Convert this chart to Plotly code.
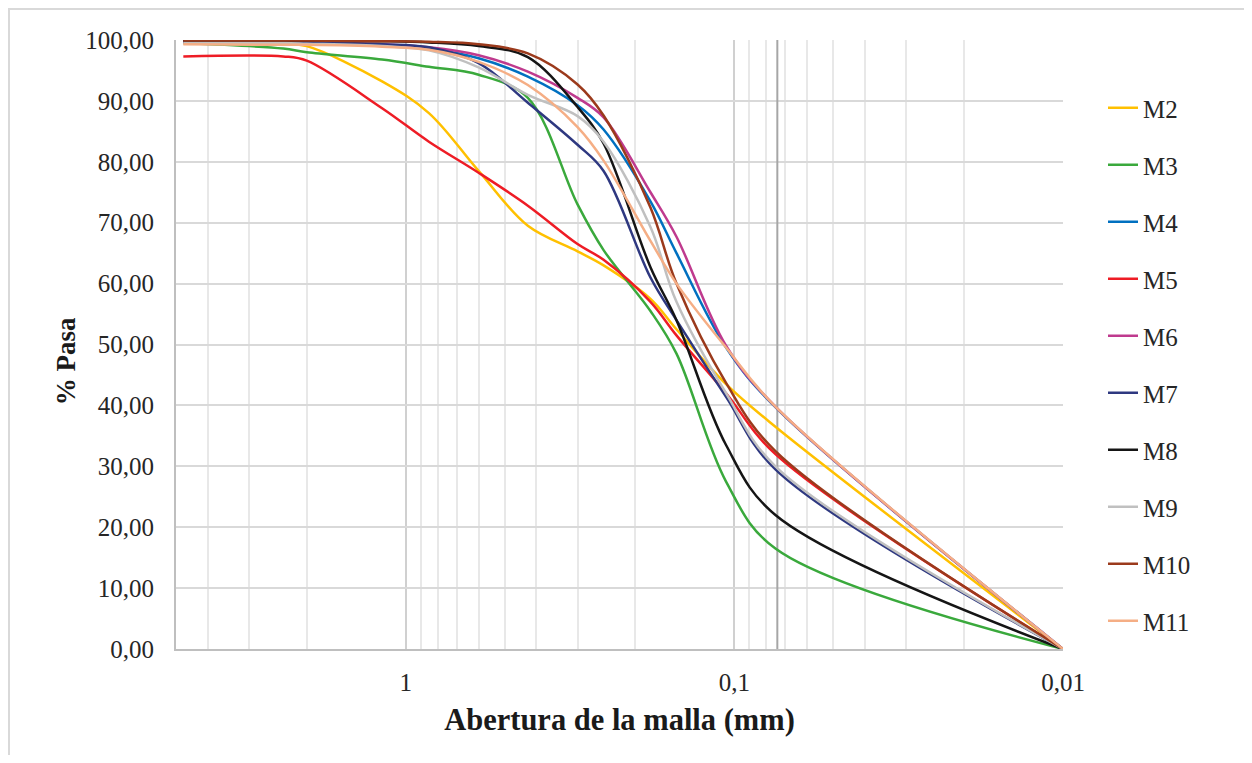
import plotly.graph_objects as go
import math

# Sieve openings (mm)
sizes = [4.75, 2.36, 2.0, 1.18, 0.85, 0.6, 0.425, 0.3, 0.25, 0.18, 0.15, 0.106, 0.075, 0.01]

M2 = [99.5, 99.4, 99.0, 93.2, 88.0, 78.5, 69.5, 65.3, 63.0, 57.5, 52.5, 43.5, 36.5, 0.0]
M3 = [99.5, 98.6, 98.0, 96.8, 95.6, 94.3, 90.5, 73.0, 65.5, 55.5, 48.5, 27.5, 16.5, 0.0]
M4 = [99.6, 99.6, 99.5, 99.2, 98.6, 97.0, 94.0, 89.3, 85.3, 73.5, 65.0, 49.5, 39.7, 0.0]
M5 = [97.3, 97.3, 96.6, 88.8, 83.3, 78.2, 72.8, 66.5, 63.9, 57.0, 51.5, 42.0, 32.0, 0.0]
M6 = [99.7, 99.7, 99.6, 99.3, 98.8, 97.5, 94.8, 90.5, 87.3, 75.0, 67.7, 49.8, 39.8, 0.0]
M7 = [99.8, 99.7, 99.6, 99.3, 98.8, 96.2, 89.7, 82.8, 78.5, 61.0, 54.0, 41.4, 29.5, 0.0]
M8 = [99.9, 99.9, 99.9, 99.8, 99.6, 99.0, 97.2, 89.0, 83.0, 62.7, 54.0, 33.5, 22.0, 0.0]
M9 = [99.5, 99.5, 99.4, 99.0, 98.3, 95.5, 91.0, 87.5, 83.3, 69.3, 57.0, 42.0, 30.0, 0.0]
M10 = [99.9, 99.9, 99.9, 99.8, 99.7, 99.3, 97.8, 92.7, 87.6, 72.5, 60.0, 43.7, 32.5, 0.0]
M11 = [99.3, 99.2, 99.2, 98.9, 98.4, 96.4, 92.6, 85.7, 80.2, 67.0, 60.0, 49.5, 39.8, 0.0]

series_names = ["M2", "M3", "M4", "M5", "M6", "M7", "M8", "M9", "M10", "M11"]
series_values = [M2, M3, M4, M5, M6, M7, M8, M9, M10, M11]
series_colors = ["#FFC000", "#3AA93C", "#0070C0", "#EE1C25", "#BF3A8E",
                 "#2E3880", "#151515", "#C0C0C0", "#9B3A1C", "#F5AE85"]

# Reference sieve line (No. 200)
ref_x = [0.074, 0.074]
ref_y = [0, 100]

x_tick_vals = [1, 0.1, 0.01]
x_tick_text = ["1", "0,1", "0,01"]
x_minor_vals = [4, 3, 2, 0.9, 0.8, 0.7, 0.6, 0.5, 0.4, 0.3, 0.2,
                0.09, 0.08, 0.07, 0.06, 0.05, 0.04, 0.03, 0.02]

fig = go.Figure()

fig.add_trace(go.Scatter(x=ref_x, y=ref_y, mode="lines",
                         line=dict(color="#A6A6A6", width=2),
                         showlegend=False, hoverinfo="skip"))

for name, vals, col in zip(series_names, series_values, series_colors):
    fig.add_trace(go.Scatter(x=sizes, y=vals, mode="lines", name=name,
                             legendgroup=name,
                             line=dict(color=col, width=2.5, shape="spline", smoothing=1.0)))

# page body adds an 8px offset; figure coordinates below are page coords - 8
W, H = 1236, 747
L, T = 168, 32
R = W - 1055
B = H - 641
pw = W - L - R
ph = H - T - B

fig.update_layout(
    width=W, height=H,
    margin=dict(l=L, r=R, t=T, b=B),
    paper_bgcolor="white", plot_bgcolor="white",
    separators=", ",
    font=dict(family="Liberation Serif", size=25, color="#262626"),
    showlegend=True,
    legend=dict(
        x=1 + (1095 - 1055) / pw, xanchor="left",
        y=1 - (77 - T) / ph, yanchor="top",
        traceorder="grouped", tracegroupgap=21.5,
        font=dict(family="Liberation Serif", size=25, color="#262626"),
        bgcolor="rgba(0,0,0,0)",
    ),
    xaxis=dict(
        type="log",
        range=[math.log10(5), -2],
        tickvals=x_tick_vals, ticktext=x_tick_text,
        showgrid=True, gridcolor="#D0D0D0", gridwidth=2,
        minor=dict(tickvals=x_minor_vals, showgrid=True, gridcolor="#E8E8E8", gridwidth=2),
        showline=True, linecolor="#BFBFBF", linewidth=2,
        ticks="", ticklabelstandoff=10,
        zeroline=False, automargin=False,
        title=dict(text="<b>Abertura de la malla (mm)</b>",
                   font=dict(family="Liberation Serif", size=30.5, color="#1a1a1a"),
                   standoff=14),
    ),
    yaxis=dict(
        range=[0, 100], dtick=10, tick0=0,
        tickformat=".2f",
        showgrid=True, gridcolor="#D9D9D9", gridwidth=2,
        showline=True, linecolor="#BFBFBF", linewidth=2,
        ticks="", ticklabelstandoff=15,
        zeroline=False, automargin=False,
        title=dict(text="<b>% Pasa</b>&nbsp;&nbsp;&nbsp;&nbsp;&nbsp;",
                   font=dict(family="Liberation Serif", size=27, color="#1a1a1a"),
                   standoff=2),
    ),
    shapes=[dict(type="rect", xref="paper", yref="paper",
                 x0=(1 - L) / pw, x1=1.4, y0=-0.4, y1=(641 - 1) / ph,
                 line=dict(color="#D9D9D9", width=2), fillcolor="rgba(0,0,0,0)",
                 layer="below")],
)

fig.write_html("out.html")
